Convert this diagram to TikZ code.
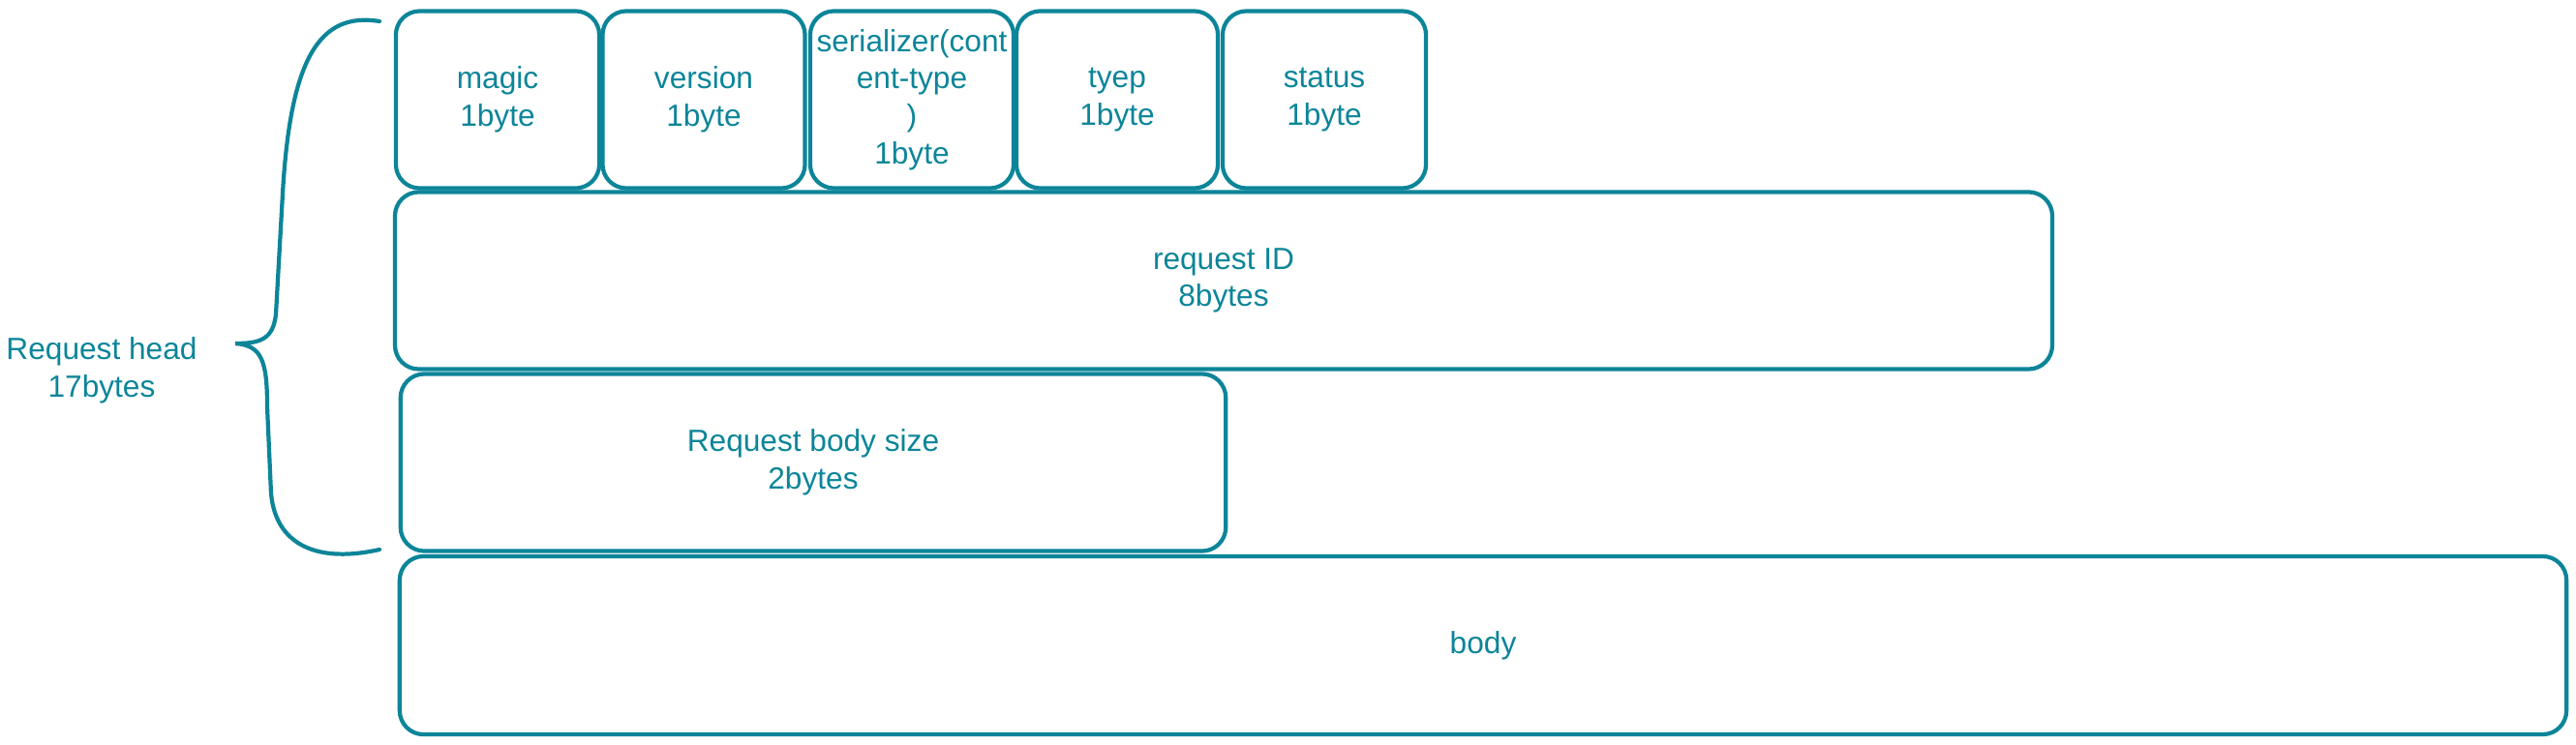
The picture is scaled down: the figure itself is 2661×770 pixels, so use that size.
\documentclass[tikz,border=0pt]{standalone}
\usepackage{fontspec}
\setmainfont{Liberation Sans}
\usepackage{tikz}
\definecolor{teal}{HTML}{0C8599}

\begin{document}
\begin{tikzpicture}[x=0.01cm, y=-0.01cm,
    field/.style={draw=teal, rectangle, rounded corners=7pt, line width=1.2pt, align=center,
        text=teal, inner xsep=1pt, font=\fontsize{9}{11}\selectfont, minimum height=1.83cm}]
                \useasboundingbox (0,0) rectangle (2661,770);
                \node[field, minimum width=2.10cm] (magic) at (514,103) {magic\\1byte};
                \node[field, minimum width=2.09cm] (version) at (727,103) {version\\1byte};
                \node[field, minimum width=2.10cm] (serializer) at (942,103) {serializer(cont\\ent-type\\)\\1byte};
                \node[field, minimum width=2.08cm] (tyep) at (1154,103) {tyep\\1byte};
                \node[field, minimum width=2.10cm] (status) at (1368,103) {status\\1byte};
                \node[field, minimum width=17.11cm] (reqid) at (1264,290) {request ID\\8bytes};
                \node[field, minimum width=8.52cm] (bodysize) at (840,478) {Request body size\\2bytes};
                \node[field, minimum width=22.37cm, minimum height=1.84cm] (body) at (1532,667) {body};
                \node[align=center, text=teal, font=\fontsize{9}{11}\selectfont] (head) at (105,383) {Request head\\17bytes};

                \coordinate (tip) at (243,355);
                \draw[teal, line width=1.2pt, line cap=round] (392,22) .. controls (330,12) and (300,60) .. (292,200)
                    -- (285,325) .. controls (282,350) and (270,355) .. (tip)
                    .. controls (270,357) and (276,372) .. (276,420)
                    -- (280,510) .. controls (285,565) and (330,582) .. (392,568);
            \end{tikzpicture}
\end{document}
